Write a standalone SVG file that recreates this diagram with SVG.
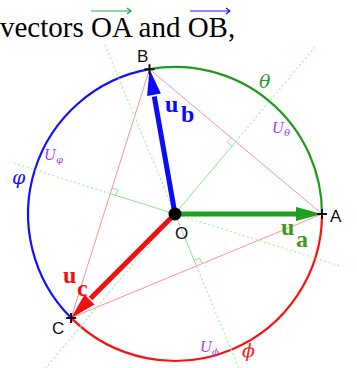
<svg xmlns="http://www.w3.org/2000/svg" width="357" height="368" viewBox="0 0 357 368">
<style>
.title{font-family:"Liberation Serif",serif;font-size:29px;fill:#000}
.pt{font-family:"Liberation Sans",sans-serif;font-size:17px;fill:#111}
.vec{font-family:"Liberation Serif",serif;font-weight:bold;font-size:24px}
.greek{font-family:"DejaVu Serif","Liberation Serif",serif;font-style:italic;font-size:19px}
.U{font-family:"Liberation Serif",serif;font-style:italic;font-size:16px;fill:#9a40ff}
.Us{font-family:"DejaVu Serif","Liberation Serif",serif;font-style:italic;font-size:10px;fill:#9a40ff}
.dot{stroke:#a2f2a2;stroke-width:1.2;stroke-dasharray:2 2.5;fill:none}
.sol{stroke:#8fe48f;stroke-width:1;fill:none}
.tri{stroke:#ff9494;stroke-width:1;fill:none}
.arc{stroke-width:2.2;fill:none}
.cross{stroke:#111;stroke-width:2}
</style>
<rect width="357" height="368" fill="#fff"/>
<g id="title">
<text class="title" x="0" y="37">vectors OA and OB,</text>
<path d="M91,11 H131 M127,8 L131,11 L127,14" stroke="#22aa44" stroke-width="1.2" fill="none"/>
<path d="M190,11 H230 M226,8 L230,11 L226,14" stroke="#1a1aff" stroke-width="1.2" fill="none"/>
</g>
<g id="circle">
<path class="arc" stroke="#1f9a1f" d="M322,214 A147,147 0 0 0 149.5,69.2"/>
<path class="arc" stroke="#1010ff" d="M149.5,69.2 A147,147 0 0 0 71.1,317.9"/>
<path class="arc" stroke="#ff1010" d="M71.1,317.9 A147,147 0 0 0 322,214"/>
</g>
<g id="connectors">
<g id="triangle">
<path class="tri" d="M322,214 L149.5,69.2 L71.1,317.9 Z"/>
</g>
<g id="bisectors">
<path class="dot" d="M33.6,382.5 L175,214 M235.7,141.6 L316.4,45.5"/>
<path class="sol" d="M175,214 L235.7,141.6"/>
<path class="sol" d="M231.8,146.2 L227.2,141.5 L231.1,137.8"/>
<path class="dot" d="M339,265.7 L175,214 M110.2,193.6 L11,162.3"/>
<path class="sol" d="M175,214 L110.2,193.6"/>
<path class="sol" d="M115.9,195.4 L117.7,189.7 L112,187.9"/>
<path class="dot" d="M105,45 L175,214 M196.5,266 L259,417"/>
<path class="sol" d="M175,214 L196.5,266"/>
<path class="sol" d="M194.2,260.5 L199.7,258.2 L202,263.7"/>
</g>
<g id="vectors">
<line x1="175" y1="214" x2="297" y2="214" stroke="#1fa01f" stroke-width="5"/>
<polygon points="322,214 296,207 296,221" fill="#1fa01f"/>
<line x1="175" y1="214" x2="154.3" y2="96.5" stroke="#0a0aff" stroke-width="5"/>
<polygon points="149.5,69.2 160.9,93.6 147.1,96" fill="#0a0aff"/>
<line x1="175" y1="214" x2="90.5" y2="298.5" stroke="#f01010" stroke-width="5"/>
<polygon points="71.1,317.9 84.5,294.5 94.5,304.5" fill="#f01010"/>
</g>
</g>
<g id="node-O">
<circle cx="175" cy="214" r="6.5" fill="#000"/>
<text class="pt" x="175" y="239">O</text>
</g>
<g id="node-A">
<path class="cross" d="M317,214 H327 M322,209 V219"/>
<text class="pt" x="330" y="222">A</text>
</g>
<g id="node-B">
<path class="cross" d="M144.5,69.2 H154.5 M149.5,64.2 V74.2"/>
<text class="pt" x="137" y="62">B</text>
</g>
<g id="node-C">
<path class="cross" d="M66.1,317.9 H76.1 M71.1,312.9 V322.9"/>
<text class="pt" x="52" y="334">C</text>
</g>
<g id="labels">
<text class="vec" fill="#3c9a1e" x="281" y="235">u</text>
<text class="vec" fill="#3c9a1e" x="296" y="247" font-size="22">a</text>
<text class="vec" fill="#0a0aff" x="165" y="112">u</text>
<text class="vec" fill="#0a0aff" x="181" y="122" font-size="22">b</text>
<text class="vec" fill="#f01010" x="63" y="283">u</text>
<text class="vec" fill="#f01010" x="77" y="296" font-size="22">c</text>
<text class="greek" fill="#2a9a2a" x="259" y="88">θ</text>
<text class="greek" fill="#1010ff" x="12" y="184">φ</text>
<text class="greek" fill="#ff2020" x="242" y="357">ϕ</text>
<text class="U" x="272" y="133">U</text><text class="Us" x="284" y="136">θ</text>
<text class="U" x="44" y="160">U</text><text class="Us" x="56" y="163">φ</text>
<text class="U" x="200" y="352">U</text><text class="Us" x="212" y="355">ϕ</text>
</g>
</svg>
